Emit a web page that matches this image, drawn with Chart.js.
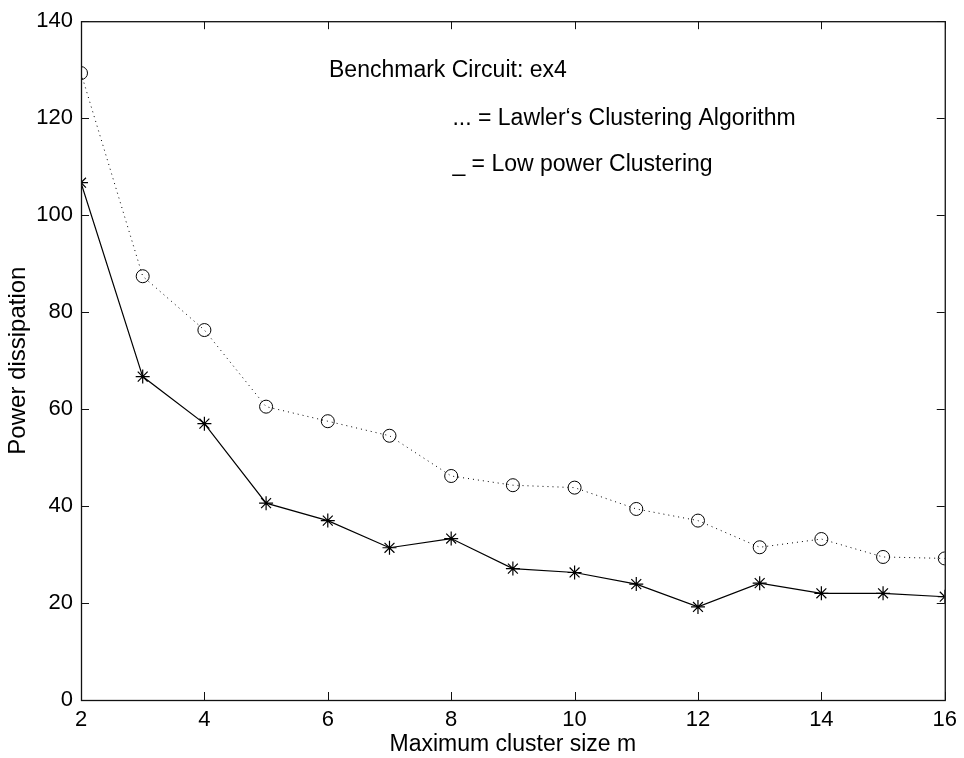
<!DOCTYPE html>
<html>
<head>
<meta charset="utf-8">
<script src="https://cdn.jsdelivr.net/npm/chart.js@4"></script>
<style>
  html, body { margin: 0; padding: 0; background: #fff; }
  #wrap { width: 964px; height: 758px; }
</style>
</head>
<body>
<div id="wrap"><canvas id="graph" width="964" height="758"></canvas></div>
<script>
const clusterSize = [2, 3, 4, 5, 6, 7, 8, 9, 10, 11, 12, 13, 14, 15, 16]
const lawler = [129.3, 87.4, 76.3, 60.5, 57.5, 54.5, 46.2, 44.3, 43.8, 39.4, 37.0, 31.5, 33.2, 29.5, 29.2]
const lowPower = [106.7, 66.7, 57.0, 40.6, 37.0, 31.4, 33.3, 27.1, 26.3, 23.9, 19.2, 24.1, 22.0, 22.0, 21.3]
const xTicks = [2, 4, 6, 8, 10, 12, 14, 16]
const yTicks = [0, 20, 40, 60, 80, 100, 120, 140]
const notes = [
  {text: "Benchmark Circuit: ex4", x: 6.02, y: 129.9},
  {text: "... = Lawler\u2018s Clustering Algorithm", x: 8.02, y: 119.8},
  {text: "_ = Low power Clustering", x: 8.02, y: 110.5}
]

const font = "Liberation Sans, Arial, Helvetica, sans-serif"

// box round the plot + inward ticks on every side, plus the text notes
const boxPlugin = {
  id: "box",
  afterDraw(chart) {
    const ctx = chart.ctx
    const a = chart.chartArea
    const xs = chart.scales.x
    const ys = chart.scales.y
    ctx.save()
    ctx.strokeStyle = "#111"
    ctx.lineWidth = 1.3
    ctx.strokeRect(a.left + 0.5, a.top + 0.5, a.right - a.left, a.bottom - a.top)
    ctx.beginPath()
    ctx.lineWidth = 1
    xTicks.forEach(v => {
      const px = Math.round(xs.getPixelForValue(v)) + 0.5
      ctx.moveTo(px, a.bottom); ctx.lineTo(px, a.bottom - 8)
      ctx.moveTo(px, a.top); ctx.lineTo(px, a.top + 8)
    })
    yTicks.forEach(v => {
      const py = Math.round(ys.getPixelForValue(v)) + 0.5
      ctx.moveTo(a.left, py); ctx.lineTo(a.left + 8, py)
      ctx.moveTo(a.right, py); ctx.lineTo(a.right - 8, py)
    })
    ctx.stroke()
    ctx.fillStyle = "#000"
    ctx.font = "23px " + font
    ctx.textBaseline = "middle"
    ctx.textAlign = "left"
    notes.forEach(n => {
      ctx.fillText(n.text, xs.getPixelForValue(n.x), ys.getPixelForValue(n.y))
    })
    ctx.restore()
  }
}

const graph = document.getElementById("graph")
new Chart(graph, {
  type: "line",
  data: {
    datasets: [
      {
        label: "Lawler",
        data: clusterSize.map((m, i) => ({x: m, y: lawler[i]})),
        borderColor: "#000",
        borderWidth: 1,
        borderDash: [1, 4],
        pointStyle: "circle",
        pointRadius: 6.5,
        pointBorderWidth: 1,
        pointBorderColor: "#000",
        pointBackgroundColor: "rgba(0,0,0,0)",
        fill: false,
        tension: 0
      },
      {
        label: "Low power",
        data: clusterSize.map((m, i) => ({x: m, y: lowPower[i]})),
        borderColor: "#000",
        borderWidth: 1.2,
        pointStyle: "star",
        pointRadius: 7,
        pointBorderWidth: 1.2,
        pointBorderColor: "#000",
        pointBackgroundColor: "#000",
        fill: false,
        tension: 0
      }
    ]
  },
  options: {
    responsive: false,
    animation: false,
    layout: {padding: {top: 21, right: 17, left: 0, bottom: 0}},
    plugins: {legend: {display: false}, tooltip: {enabled: false}},
    scales: {
      x: {
        type: "linear",
        min: 2,
        max: 16,
        afterBuildTicks: s => { s.ticks = xTicks.map(v => ({value: v})) },
        afterFit: s => { s.height = 58 },
        grid: {display: false, drawTicks: false},
        border: {display: false},
        ticks: {color: "#000", font: {size: 22, family: font}, padding: 7, maxRotation: 0},
        title: {display: true, text: "Maximum cluster size m", color: "#000", font: {size: 23, family: font}, padding: {top: 0, bottom: 0}}
      },
      y: {
        type: "linear",
        min: 0,
        max: 140,
        afterBuildTicks: s => { s.ticks = yTicks.map(v => ({value: v})) },
        afterFit: s => { s.width = 81 },
        grid: {display: false, drawTicks: false},
        border: {display: false},
        ticks: {color: "#000", font: {size: 22, family: font}, padding: 8},
        title: {display: true, text: "Power dissipation", color: "#000", font: {size: 24, family: font}, padding: {top: 4, bottom: 0}}
      }
    }
  },
  plugins: [boxPlugin]
})
</script>
</body>
</html>
